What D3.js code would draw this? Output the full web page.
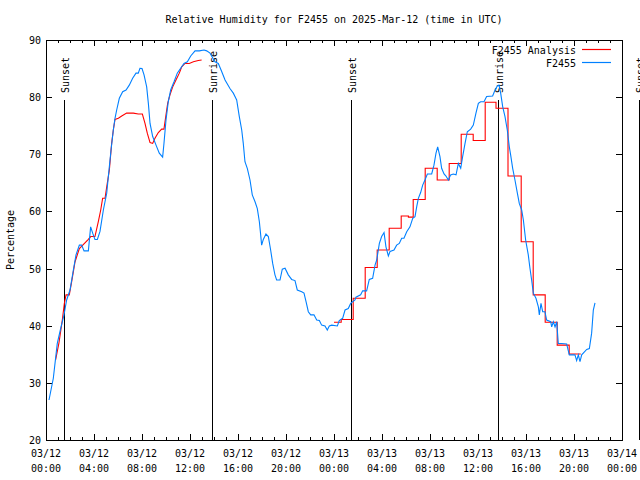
<!DOCTYPE html>
<html><head><meta charset="utf-8">
<script src="https://cdn.jsdelivr.net/npm/d3@7"></script>
<style>body{margin:0;background:#fff}svg{display:block}text{font-family:"DejaVu Sans Mono","Liberation Mono",monospace;font-size:10px;fill:#000}</style>
</head><body><svg id="c" width="640" height="480"></svg>
<script>
// hours since 2025-03-12 00:00 UTC
const stationHours = [0.25,0.61,0.94,1.22,1.5,1.72,2.0,2.28,2.5,2.78,2.97,3.17,3.53,3.72,3.89,4.08,4.28,4.5,4.78,5.06,5.25,5.42,5.61,5.75,5.89,6.11,6.39,6.67,6.94,7.22,7.5,7.69,7.83,8.0,8.17,8.39,8.53,8.67,8.89,9.17,9.44,9.72,9.83,10.0,10.19,10.39,10.67,10.94,11.22,11.5,11.78,12.06,12.42,12.78,13.17,13.39,13.67,14.08,14.36,14.64,14.92,15.33,15.61,15.89,16.11,16.31,16.44,16.58,16.78,17.0,17.19,17.42,17.61,17.78,17.89,17.97,18.11,18.33,18.53,18.72,18.89,19.08,19.22,19.5,19.69,19.92,20.19,20.47,20.75,20.94,21.31,21.5,21.67,21.86,22.06,22.33,22.56,22.78,22.97,23.25,23.44,23.61,23.81,24.28,24.44,24.72,24.92,25.19,25.39,25.75,25.83,26.22,26.39,26.72,26.94,27.22,27.42,27.56,27.78,27.97,28.17,28.33,28.53,28.67,29.0,29.22,29.44,29.64,29.83,30.06,30.33,30.56,30.75,30.89,31.03,31.22,31.39,31.58,31.78,32.14,32.33,32.5,32.64,32.83,32.97,33.17,33.33,33.53,33.72,33.94,34.17,34.36,34.56,34.72,34.92,35.11,35.39,35.61,35.83,36.03,36.22,36.5,36.72,37.22,37.42,37.61,37.75,37.89,38.06,38.25,38.44,38.61,38.72,38.89,39.08,39.28,39.44,39.64,39.78,39.97,40.19,40.33,40.47,40.61,40.83,41.03,41.11,41.25,41.39,41.58,41.72,42.06,42.14,42.28,42.42,42.56,42.69,42.97,43.39,43.61,44.08,44.22,44.36,44.5,44.64,45.06,45.28,45.47,45.61,45.75];
const stationRH = [27.0,30.8,36.9,39.5,41.9,44.5,46.25,49.75,52.4,54.1,54.1,53.1,53.1,57.3,56.2,55.1,55.1,56.5,60.25,63.2,67.25,70.75,74.25,76.3,77.75,79.8,80.95,81.25,82.1,83.3,84.2,84.2,85.05,85.0,83.9,81.8,78.9,75.4,73.1,71.6,70.2,69.5,71.9,76.0,79.2,81.25,82.7,84.2,85.05,85.9,86.2,87.2,88.1,88.1,88.25,88.1,87.7,86.2,85.9,84.5,83.0,81.5,80.7,79.5,76.6,74.25,71.9,68.7,67.5,65.5,62.9,61.7,60.5,58.2,55.9,54.1,55.1,56.05,55.6,53.25,50.9,48.9,48.0,48.0,49.9,50.05,48.9,48.1,47.9,46.25,45.95,45.7,44.2,42.45,41.9,41.9,41.0,40.9,40.1,39.95,39.25,39.95,40.1,39.95,40.9,41.3,42.75,43.0,43.9,44.5,45.0,45.4,46.1,46.1,48.1,48.3,50.6,51.5,54.4,55.6,56.3,53.8,52.2,53.0,53.25,54.1,54.4,55.3,55.3,56.45,57.3,58.8,59.1,60.8,62.3,63.3,64.6,65.5,66.55,66.55,68.1,70.2,71.3,69.6,67.55,66.55,66.2,65.5,66.4,66.55,66.4,68.4,67.55,69.6,71.9,73.95,74.4,75.1,77.2,78.9,79.2,79.2,80.1,80.2,81.25,81.95,82.1,80.7,78.3,76.6,74.25,71.3,69.9,67.55,65.5,63.2,61.4,60.25,58.5,55.0,52.4,50.05,48.0,45.7,44.8,43.3,41.9,43.9,42.45,42.45,41.0,40.7,39.8,40.7,39.8,40.7,36.9,36.9,36.8,34.9,34.9,33.9,34.9,33.7,34.9,35.85,36.0,38.7,42.75,44.0];

// analysis, first day (fine resolution)
const analysisHours1 = [0.8,1.08,1.36,1.53,1.67,1.94,2.14,2.42,2.78,3.53,3.72,4.08,4.36,4.56,4.72,4.92,5.06,5.28,5.47,5.61,5.75,6.03,6.31,6.72,7.28,7.69,8.03,8.25,8.44,8.67,8.89,9.08,9.36,9.64,9.83,10.0,10.14,10.33,10.56,10.83,11.11,11.31,11.58,11.94,12.28,12.69,12.97];
const analysisRH1 = [34.0,37.0,41.0,43.9,45.4,45.4,47.7,51.2,53.5,55.1,55.6,55.6,58.2,60.25,62.3,62.3,64.3,67.25,71.9,74.25,76.1,76.3,76.7,77.2,77.2,77.05,77.05,75.4,73.7,72.05,71.9,72.8,73.8,74.4,74.4,76.9,78.9,80.4,81.8,83.0,84.2,85.3,85.9,85.9,86.2,86.4,86.5];
// analysis, second day (hourly steps)
const analysisHours2 = [24.0,24.6,25.6,26.6,27.6,28.6,29.6,30.2,30.6,31.6,32.6,33.6,34.6,35.6,36.6,37.5,38.5,39.6,40.6,41.6,42.6,43.6,44.56];
const analysisRH2 = [40.6,41.1,44.8,50.2,53.25,57.05,59.2,59.0,62.1,67.55,65.5,68.4,73.5,72.4,79.1,78.05,66.2,54.7,45.4,40.6,36.6,35.05,35.05];

const sunHours = [1.53,13.8,25.45,37.69,49.39];
const sunLabels = ["Sunset","Sunrise","Sunset","Sunrise","Sunset"];

const xTickHours = [0,4,8,12,16,20,24,28,32,36,40,44,48];
const xTickDates = ["03/12","03/12","03/12","03/12","03/12","03/12","03/13","03/13","03/13","03/13","03/13","03/13","03/14"];
const xTickTimes = ["00:00","04:00","08:00","12:00","16:00","20:00","00:00","04:00","08:00","12:00","16:00","20:00","00:00"];
const yTicks = [20,30,40,50,60,70,80,90];

const seriesNames = ["F2455 Analysis","F2455"];
const seriesColors = ["#ff0000","#0080ff"];

const L=46,R=622,T=40,B=440;
const svg = d3.select("#c");
const x = d3.scaleLinear().domain([0,48]).range([L,R]);
const y = d3.scaleLinear().domain([20,90]).range([B,T]);

svg.append("text").attr("x",334).attr("y",23).attr("text-anchor","middle")
  .text("Relative Humidity for F2455 on 2025-Mar-12 (time in UTC)");

// axes with ticks (mirrored)
const minorHours = d3.range(0,49,1);
const g = svg.append("g").attr("shape-rendering","crispEdges").attr("stroke","#000");
minorHours.forEach(h=>{
  const len = (h%4===0)?6:3;
  const xx = Math.round(x(h))+0.5;
  g.append("line").attr("x1",xx).attr("x2",xx).attr("y1",B).attr("y2",B-len);
  g.append("line").attr("x1",xx).attr("x2",xx).attr("y1",T).attr("y2",T+len);
});
yTicks.forEach(v=>{
  const yy = Math.round(y(v))+0.5;
  g.append("line").attr("x1",L).attr("x2",L+6).attr("y1",yy).attr("y2",yy);
  g.append("line").attr("x1",R).attr("x2",R-6).attr("y1",yy).attr("y2",yy);
  svg.append("text").attr("x",L-5).attr("y",y(v)+4).attr("text-anchor","end").text(v);
});
xTickHours.forEach((h,i)=>{
  svg.append("text").attr("x",x(h)).attr("y",457).attr("text-anchor","middle").text(xTickDates[i]);
  svg.append("text").attr("x",x(h)).attr("y",472).attr("text-anchor","middle").text(xTickTimes[i]);
});
svg.append("text").attr("transform","translate(14,240) rotate(-90)").attr("text-anchor","middle").text("Percentage");

// sun events
sunHours.forEach((h,i)=>{
  const xx = Math.round(x(h))+0.5;
  g.append("line").attr("x1",xx).attr("x2",xx).attr("y1",100).attr("y2",B);
  svg.append("text").attr("transform",`translate(${xx+4},93) rotate(-90)`).attr("text-anchor","start").text(sunLabels[i]);
});

// lines
const line = d3.line().x(d=>x(d[0])).y(d=>y(d[1]));
const stepLine = d3.line().x(d=>x(d[0])).y(d=>y(d[1])).curve(d3.curveStepAfter);
const lg = svg.append("g").attr("fill","none").attr("stroke-width",1.1);
lg.append("path").attr("d",line(d3.zip(analysisHours1,analysisRH1))).attr("stroke",seriesColors[0]);
lg.append("path").attr("d",stepLine(d3.zip(analysisHours2,analysisRH2))).attr("stroke",seriesColors[0]);
lg.append("path").attr("d",line(d3.zip(stationHours,stationRH))).attr("stroke",seriesColors[1]);

// border
g.append("rect").attr("x",L+0.5).attr("y",T+0.5).attr("width",R-L).attr("height",B-T).attr("fill","none");

// legend
seriesNames.forEach((n,i)=>{
  const yy = 50 + i*13;
  svg.append("text").attr("x",576).attr("y",yy+4).attr("text-anchor","end").text(n);
  svg.append("line").attr("x1",582).attr("x2",611).attr("y1",yy-0.5).attr("y2",yy-0.5)
    .attr("stroke",seriesColors[i]).attr("stroke-width",1.2);
});
</script></body></html>
